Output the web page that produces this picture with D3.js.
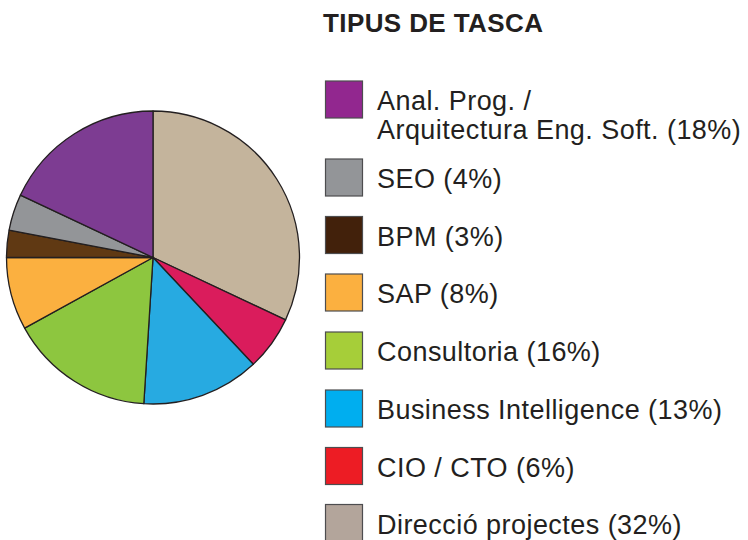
<!DOCTYPE html>
<html>
<head>
<meta charset="utf-8">
<script src="https://cdn.jsdelivr.net/npm/d3@7"></script>
<style>
  body { margin: 0; background: #fff; }
  text { font-family: "Liberation Sans", Arial, sans-serif; fill: #231f20; }
</style>
</head>
<body>
<div id="chart"></div>
<script>
// slices in drawing order, clockwise from 12 o'clock
const categories = ["Direcció projectes", "CIO / CTO", "Business Intelligence", "Consultoria", "SAP", "BPM", "SEO", "Anal. Prog. / Arquitectura Eng. Soft."];
const values = [32, 6, 13, 16, 8, 3, 4, 18];
const pieColors = ["#c4b49c", "#da1c5c", "#27aae1", "#8dc63f", "#fbb040", "#603913", "#939598", "#7d3c92"];
const legendColors = ["#b3a59b", "#ed1c24", "#00aeef", "#a6ce39", "#fbb040", "#42210b", "#939598", "#92278f"];

// legend runs in the opposite order, each label split in lines
const legendOrder = [7, 6, 5, 4, 3, 2, 1, 0];
const legendLines = {
  7: ["Anal. Prog. /", "Arquitectura Eng. Soft. (18%)"]
};

const width = 748, height = 540;
const cx = 153, cy = 257.5, radius = 146.5;

const svg = d3.select("#chart").append("svg")
  .attr("width", width)
  .attr("height", height);

const pie = d3.pie().sort(null).value(d => d)(values);
const arc = d3.arc().innerRadius(0).outerRadius(radius);

svg.append("g")
  .attr("transform", `translate(${cx},${cy})`)
  .selectAll("path")
  .data(pie)
  .enter()
  .append("path")
  .attr("d", arc)
  .attr("fill", (d, i) => pieColors[i])
  .attr("stroke", "#231f20")
  .attr("stroke-width", 1.3)
  .attr("stroke-linejoin", "round");

// title
svg.append("text")
  .attr("x", 323)
  .attr("y", 31.5)
  .attr("font-size", 26)
  .attr("font-weight", "bold")
  .attr("letter-spacing", 0.4)
  .text("TIPUS DE TASCA");

// legend rows (first row is two lines tall)
const rowTops = [81, 159, 216.5, 274, 332, 390, 447.5, 504.5];

const rows = svg.append("g")
  .selectAll("g")
  .data(legendOrder)
  .enter()
  .append("g")
  .attr("transform", (d, i) => `translate(0,${rowTops[i]})`);

rows.append("rect")
  .attr("x", 325.5)
  .attr("y", 0)
  .attr("width", 37)
  .attr("height", 37)
  .attr("fill", d => legendColors[d])
  .attr("stroke", "#4d4d4f")
  .attr("stroke-width", 1.2);

rows.each(function(d) {
  const lines = legendLines[d] || [categories[d] + " (" + values[d] + "%)"];
  const t = d3.select(this).append("text")
    .attr("font-size", 27)
    .attr("letter-spacing", 0.45)
    .attr("x", 377);
  lines.forEach((l, j) => {
    t.append("tspan")
      .attr("x", 377)
      .attr("y", 29 + j * 28.5)
      .text(l);
  });
});
</script>
</body>
</html>
